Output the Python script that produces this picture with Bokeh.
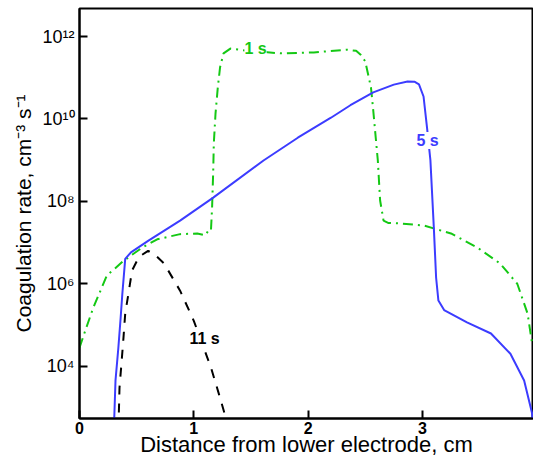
from bokeh.plotting import figure
from bokeh.models import Range1d, FixedTicker, Label
from bokeh.embed import file_html
from bokeh.resources import INLINE

# ---- data ----
x_1s = [0.0, 0.05, 0.12, 0.24, 0.30, 0.385, 0.42, 0.55, 0.68, 0.88, 1.03, 1.10, 1.13,
        1.15, 1.16, 1.17, 1.175, 1.19, 1.21, 1.23, 1.26, 1.32, 1.45, 1.76, 2.05, 2.34,
        2.42, 2.46, 2.50, 2.55, 2.57, 2.61, 2.63, 2.66, 2.70, 2.81, 3.01, 3.25, 3.48,
        3.68, 3.83, 3.92, 3.96]
y_1s = [2.8e4, 7.2e4, 2.6e5, 1.6e6, 2.2e6, 3.6e6, 4.2e6, 7.6e6, 1.2e7, 1.6e7, 1.66e7, 1.5e7, 2.0e7,
        1.95e7, 7.1e7, 5.6e8, 2.5e9, 1.35e10, 5.8e10, 1.8e11, 3.9e11, 5.1e11, 4.6e11, 3.9e11, 4.1e11, 4.8e11,
        4.5e11, 3.6e11, 2.5e11, 5.8e10, 1.6e10, 9.8e8, 1.05e8, 3.4e7, 3.0e7, 2.9e7, 2.6e7, 1.66e7, 7.6e6,
        3.1e6, 1.0e6, 1.9e5, 3.5e4]

x_5s = [0.295, 0.315, 0.34, 0.36, 0.375, 0.40, 0.45, 0.60, 0.88, 1.17, 1.61, 1.91, 2.20,
        2.37, 2.57, 2.75, 2.87, 2.93, 2.97, 3.01, 3.04, 3.07, 3.10, 3.12, 3.14, 3.19,
        3.39, 3.60, 3.77, 3.89, 3.96, 3.98]
y_5s = [1.0e2, 4.5e3, 2.8e4, 1.5e5, 5.8e5, 4.0e6, 5.8e6, 1.1e7, 3.4e7, 1.23e8, 9.8e8, 3.5e9, 1.07e10,
        2.15e10, 4.4e10, 6.8e10, 8.1e10, 8.0e10, 6.9e10, 3.5e10, 6.3e9, 1.0e9, 2.3e7, 1.4e6, 3.9e5, 2.3e5,
        1.15e5, 6.2e4, 2.0e4, 4.5e3, 7.1e2, 1.0e2]

x_11s = [0.338, 0.343, 0.35, 0.367, 0.385, 0.40, 0.43, 0.46, 0.52, 0.60, 0.65, 0.74, 0.88,
         1.0, 1.15, 1.22, 1.28, 1.30]
y_11s = [1.0e2, 5.4e2, 3.0e3, 1.15e4, 5.0e4, 1.9e5, 6.2e5, 2.1e6, 4.5e6, 6.3e6, 5.4e6, 3.1e6, 6.8e5,
         1.26e5, 9.3e3, 2.1e3, 5.6e2, 1.0e2]

curve_labels = ["1 s", "5 s", "11 s"]
label_x = [1.54, 3.045, 1.094]
label_y = [5.1e11, 3.0e9, 4.7e4]

x_ticks = [0, 1, 2, 3, 4]
y_ticks = [1e4, 1e6, 1e8, 1e10, 1e12]
y_tick_labels = ["10\u2074", "10\u2076", "10\u2078", "10\u00b9\u2070", "10\u00b9\u00b2"]

FONT = "Liberation Sans"
GREEN = "#14c814"
BLUE = "#3c3cff"

p = figure(width=533, height=459, output_backend="svg", toolbar_location=None,
           y_axis_type="log",
           x_range=Range1d(0, 3.972), y_range=Range1d(10**2.73, 10**12.68),
           min_border_left=79, min_border_right=0, min_border_top=8, min_border_bottom=41)

p.background_fill_color = "white"
p.border_fill_color = "white"
p.outline_line_color = "black"
p.outline_line_width = 2
p.xgrid.visible = False
p.ygrid.visible = False

p.line(x_1s, y_1s, line_color=GREEN, line_width=2, line_dash="10 5 2 5")
p.line(x_5s, y_5s, line_color=BLUE, line_width=2)
p.line(x_11s, y_11s, line_color="black", line_width=2, line_dash="9 9")

colors = [GREEN, BLUE, "black"]
for t, lx, ly, c in zip(curve_labels, label_x, label_y, colors):
    p.add_layout(Label(x=lx, y=ly, text=t, text_color=c, text_font=FONT,
                       text_font_size="16px", text_font_style="bold",
                       text_align="center", text_baseline="middle",
                       background_fill_color="white"))

for ax in (p.xaxis[0], p.yaxis[0]):
    ax.axis_line_width = 2
    ax.major_tick_line_width = 2
    ax.major_tick_in = 8
    ax.major_tick_out = 0
    ax.minor_tick_line_color = None
    ax.major_label_text_font = FONT
    ax.axis_label_text_font = FONT
    ax.axis_label_text_font_style = "normal"
    ax.axis_label_text_color = "black"
    ax.major_label_text_color = "black"

p.xaxis.ticker = FixedTicker(ticks=x_ticks)
p.xaxis.major_label_text_font_size = "16px"
p.xaxis.major_label_text_font_style = "bold"
p.xaxis.major_label_standoff = 3
p.xaxis.axis_label = "Distance from lower electrode, cm"
p.xaxis.axis_label_text_font_size = "22px"
p.xaxis.axis_label_standoff = -5

p.yaxis.ticker = FixedTicker(ticks=y_ticks, minor_ticks=[])
p.yaxis.major_label_overrides = {k: v for k, v in zip(y_ticks, y_tick_labels)}
p.yaxis.major_label_text_font_size = "18px"
p.yaxis.major_label_standoff = 5
p.yaxis.axis_label = "Coagulation rate, cm\u207b\u00b3 s\u207b\u00b9"
p.yaxis.axis_label_text_font_size = "21px"
p.yaxis.axis_label_standoff = 4

open("out.html", "w").write(file_html(p, INLINE))
